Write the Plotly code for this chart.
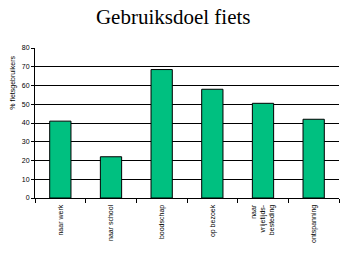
import plotly.graph_objects as go

categories = ["naar werk", "naar school", "boodschap", "op bezoek",
              "naar vrijetijds-besteding", "ontspanning"]
tick_text = ["naar werk", "naar school", "boodschap", "op bezoek",
             "naar<br>vrijetijds-<br>besteding", "ontspanning"]
values = [41, 22, 68.5, 58, 50.5, 42]
y_ticks = [0, 10, 20, 30, 40, 50, 60, 70, 80]

fig = go.Figure(go.Bar(
    x=categories, y=values,
    marker=dict(color="#00C080", line=dict(color="black", width=1)),
))

fig.update_layout(
    width=343, height=260,
    margin=dict(l=35, r=4, t=48, b=62),
    paper_bgcolor="white", plot_bgcolor="white",
    bargap=0.58,
    showlegend=False,
    font=dict(family="Liberation Sans, Arial, sans-serif", size=7, color="black"),
    title=dict(text="Gebruiksdoel fiets", x=0.505, xanchor="center", y=0.965, yanchor="top",
               font=dict(family="Liberation Serif, Times New Roman, serif", size=21, color="black")),
)
fig.update_xaxes(
    type="category", tickmode="array", tickvals=categories, ticktext=tick_text,
    tickangle=-90, ticks="outside", tickson="boundaries", ticklen=4, tickcolor="black",
    showline=True, linecolor="black", linewidth=1, showgrid=False,
    tickfont=dict(size=7), ticklabelstandoff=3,
)
fig.update_yaxes(
    range=[0, 80], tickmode="array", tickvals=y_ticks,
    ticks="outside", ticklen=3, tickcolor="black",
    showline=True, linecolor="black", linewidth=1,
    showgrid=True, gridcolor="black", gridwidth=1, zeroline=False,
    tickfont=dict(size=7),
)
fig.add_annotation(
    text="% fietsgebruikers", textangle=-90, xref="paper", yref="paper",
    x=-0.075, y=0.77, xanchor="center", yanchor="middle", showarrow=False,
    font=dict(size=7),
)

fig.write_html("out.html")
